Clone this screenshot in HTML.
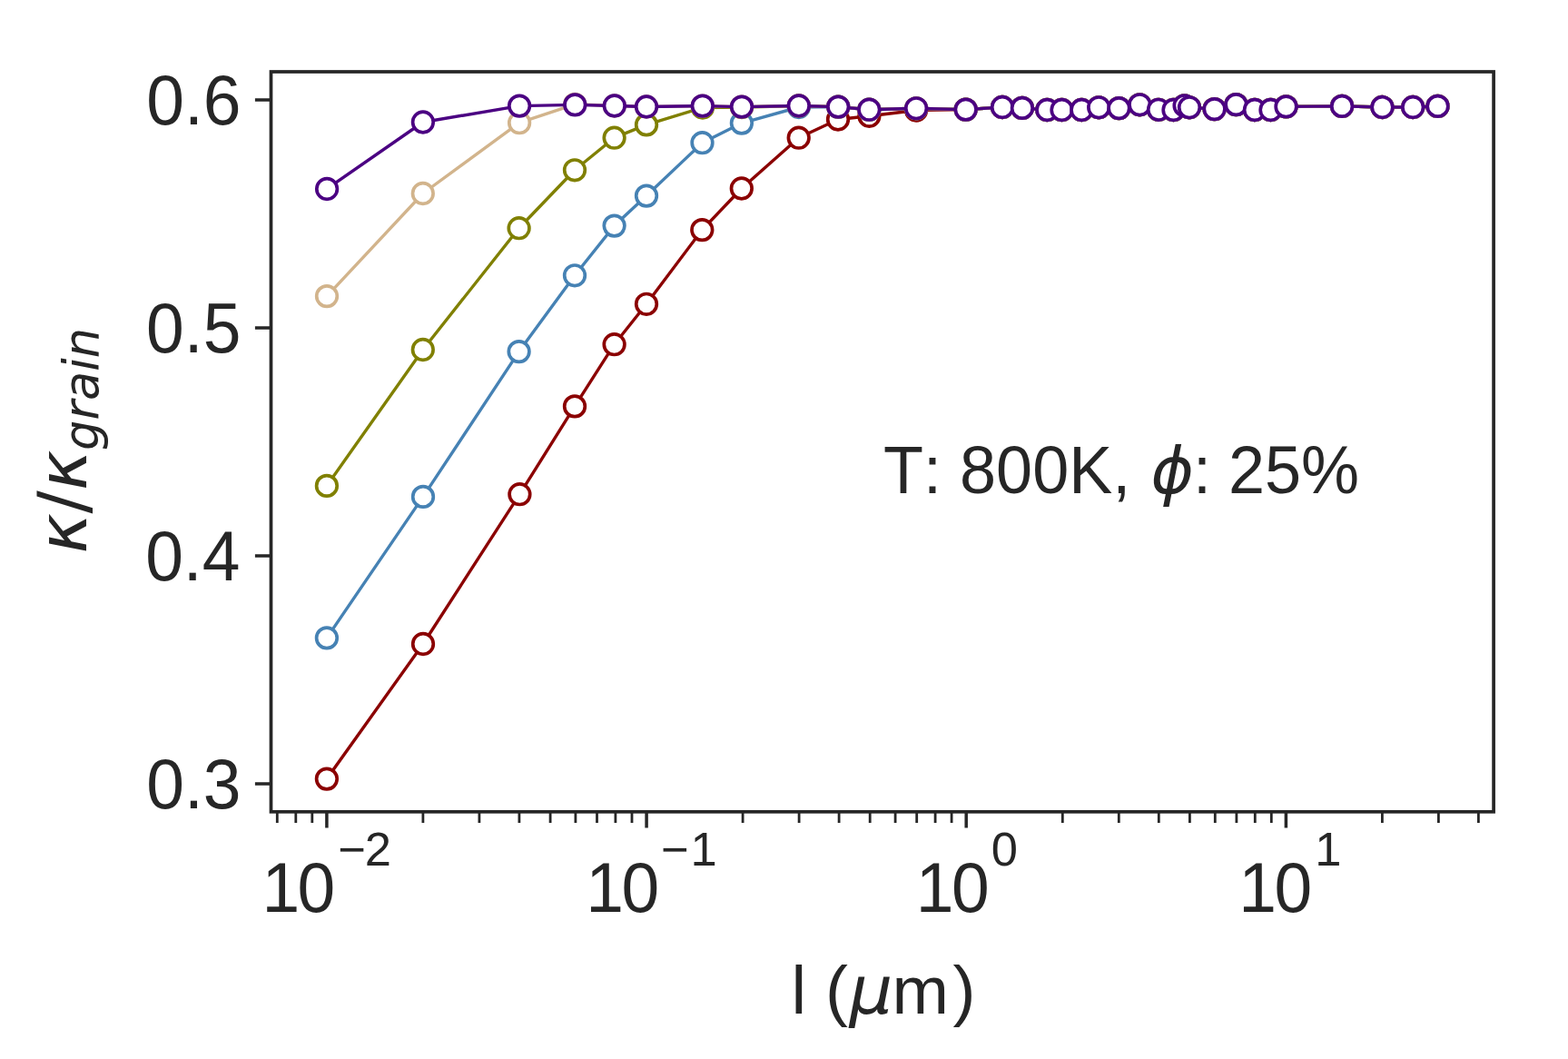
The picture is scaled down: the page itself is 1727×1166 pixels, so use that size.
<!DOCTYPE html>
<html><head><meta charset="utf-8"><style>html,body{margin:0;padding:0;background:#fff;overflow:hidden}svg{display:block}text{font-kerning:none}</style></head>
<body><svg width="1727" height="1166" viewBox="0 0 1727 1166">
<rect width="1727" height="1166" fill="#fff"/>
<g>
<defs><clipPath id="c"><rect x="298.5" y="79.0" width="1346.6" height="814.8"/></clipPath></defs>
<g clip-path="url(#c)">
<polyline points="359.9,857.6 466.0,709.0 572.4,544.2 633.0,447.4 676.6,379.2 712.0,334.8 773.3,253.1 816.8,207.5 879.7,151.7 923.0,131.5 957.4,127.8 1009.1,121.5 1063.7,120.6 1104.0,118.0 1125.9,118.9 1153.3,121.0 1169.5,121.0 1191.3,121.0 1210.2,118.3 1232.4,119.1 1255.3,115.3 1276.0,120.8 1292.5,121.0 1304.6,116.3 1310.0,118.3 1337.6,120.1 1361.4,115.1 1381.9,121.0 1399.5,121.0 1416.5,117.4 1478.1,116.9 1522.5,118.0 1556.2,118.0 1583.5,116.9" fill="none" stroke="#8B0000" stroke-width="3.4" stroke-linejoin="round" stroke-linecap="square"/>
<g fill="#fff" stroke="#8B0000" stroke-width="3.7"><circle cx="359.9" cy="857.6" r="11.3"/><circle cx="466.0" cy="709.0" r="11.3"/><circle cx="572.4" cy="544.2" r="11.3"/><circle cx="633.0" cy="447.4" r="11.3"/><circle cx="676.6" cy="379.2" r="11.3"/><circle cx="712.0" cy="334.8" r="11.3"/><circle cx="773.3" cy="253.1" r="11.3"/><circle cx="816.8" cy="207.5" r="11.3"/><circle cx="879.7" cy="151.7" r="11.3"/><circle cx="923.0" cy="131.5" r="11.3"/><circle cx="957.4" cy="127.8" r="11.3"/><circle cx="1009.1" cy="121.5" r="11.3"/><circle cx="1063.7" cy="120.6" r="11.3"/><circle cx="1104.0" cy="118.0" r="11.3"/><circle cx="1125.9" cy="118.9" r="11.3"/><circle cx="1153.3" cy="121.0" r="11.3"/><circle cx="1169.5" cy="121.0" r="11.3"/><circle cx="1191.3" cy="121.0" r="11.3"/><circle cx="1210.2" cy="118.3" r="11.3"/><circle cx="1232.4" cy="119.1" r="11.3"/><circle cx="1255.3" cy="115.3" r="11.3"/><circle cx="1276.0" cy="120.8" r="11.3"/><circle cx="1292.5" cy="121.0" r="11.3"/><circle cx="1304.6" cy="116.3" r="11.3"/><circle cx="1310.0" cy="118.3" r="11.3"/><circle cx="1337.6" cy="120.1" r="11.3"/><circle cx="1361.4" cy="115.1" r="11.3"/><circle cx="1381.9" cy="121.0" r="11.3"/><circle cx="1399.5" cy="121.0" r="11.3"/><circle cx="1416.5" cy="117.4" r="11.3"/><circle cx="1478.1" cy="116.9" r="11.3"/><circle cx="1522.5" cy="118.0" r="11.3"/><circle cx="1556.2" cy="118.0" r="11.3"/><circle cx="1583.5" cy="116.9" r="11.3"/></g>
<polyline points="359.9,702.4 466.0,546.9 571.6,387.1 633.0,303.3 676.6,248.6 712.0,215.6 773.5,157.2 816.9,135.6 879.8,118.0 923.2,117.6 957.3,120.7 1009.1,119.3 1063.7,120.6 1104.0,118.0 1125.9,118.9 1153.3,121.0 1169.5,121.0 1191.3,121.0 1210.2,118.3 1232.4,119.1 1255.3,115.3 1276.0,120.8 1292.5,121.0 1304.6,116.3 1310.0,118.3 1337.6,120.1 1361.4,115.1 1381.9,121.0 1399.5,121.0 1416.5,117.4 1478.1,116.9 1522.5,118.0 1556.2,118.0 1583.5,116.9" fill="none" stroke="#4682B4" stroke-width="3.4" stroke-linejoin="round" stroke-linecap="square"/>
<g fill="#fff" stroke="#4682B4" stroke-width="3.7"><circle cx="359.9" cy="702.4" r="11.3"/><circle cx="466.0" cy="546.9" r="11.3"/><circle cx="571.6" cy="387.1" r="11.3"/><circle cx="633.0" cy="303.3" r="11.3"/><circle cx="676.6" cy="248.6" r="11.3"/><circle cx="712.0" cy="215.6" r="11.3"/><circle cx="773.5" cy="157.2" r="11.3"/><circle cx="816.9" cy="135.6" r="11.3"/><circle cx="879.8" cy="118.0" r="11.3"/><circle cx="923.2" cy="117.6" r="11.3"/><circle cx="957.3" cy="120.7" r="11.3"/><circle cx="1009.1" cy="119.3" r="11.3"/><circle cx="1063.7" cy="120.6" r="11.3"/><circle cx="1104.0" cy="118.0" r="11.3"/><circle cx="1125.9" cy="118.9" r="11.3"/><circle cx="1153.3" cy="121.0" r="11.3"/><circle cx="1169.5" cy="121.0" r="11.3"/><circle cx="1191.3" cy="121.0" r="11.3"/><circle cx="1210.2" cy="118.3" r="11.3"/><circle cx="1232.4" cy="119.1" r="11.3"/><circle cx="1255.3" cy="115.3" r="11.3"/><circle cx="1276.0" cy="120.8" r="11.3"/><circle cx="1292.5" cy="121.0" r="11.3"/><circle cx="1304.6" cy="116.3" r="11.3"/><circle cx="1310.0" cy="118.3" r="11.3"/><circle cx="1337.6" cy="120.1" r="11.3"/><circle cx="1361.4" cy="115.1" r="11.3"/><circle cx="1381.9" cy="121.0" r="11.3"/><circle cx="1399.5" cy="121.0" r="11.3"/><circle cx="1416.5" cy="117.4" r="11.3"/><circle cx="1478.1" cy="116.9" r="11.3"/><circle cx="1522.5" cy="118.0" r="11.3"/><circle cx="1556.2" cy="118.0" r="11.3"/><circle cx="1583.5" cy="116.9" r="11.3"/></g>
<polyline points="359.9,534.9 465.8,385.0 571.6,251.2 633.0,187.3 676.6,151.7 712.0,137.4 773.9,118.5 817.0,118.0 879.8,116.5 923.2,117.6 957.3,120.7 1009.1,119.3 1063.7,120.6 1104.0,118.0 1125.9,118.9 1153.3,121.0 1169.5,121.0 1191.3,121.0 1210.2,118.3 1232.4,119.1 1255.3,115.3 1276.0,120.8 1292.5,121.0 1304.6,116.3 1310.0,118.3 1337.6,120.1 1361.4,115.1 1381.9,121.0 1399.5,121.0 1416.5,117.4 1478.1,116.9 1522.5,118.0 1556.2,118.0 1583.5,116.9" fill="none" stroke="#808000" stroke-width="3.4" stroke-linejoin="round" stroke-linecap="square"/>
<g fill="#fff" stroke="#808000" stroke-width="3.7"><circle cx="359.9" cy="534.9" r="11.3"/><circle cx="465.8" cy="385.0" r="11.3"/><circle cx="571.6" cy="251.2" r="11.3"/><circle cx="633.0" cy="187.3" r="11.3"/><circle cx="676.6" cy="151.7" r="11.3"/><circle cx="712.0" cy="137.4" r="11.3"/><circle cx="773.9" cy="118.5" r="11.3"/><circle cx="817.0" cy="118.0" r="11.3"/><circle cx="879.8" cy="116.5" r="11.3"/><circle cx="923.2" cy="117.6" r="11.3"/><circle cx="957.3" cy="120.7" r="11.3"/><circle cx="1009.1" cy="119.3" r="11.3"/><circle cx="1063.7" cy="120.6" r="11.3"/><circle cx="1104.0" cy="118.0" r="11.3"/><circle cx="1125.9" cy="118.9" r="11.3"/><circle cx="1153.3" cy="121.0" r="11.3"/><circle cx="1169.5" cy="121.0" r="11.3"/><circle cx="1191.3" cy="121.0" r="11.3"/><circle cx="1210.2" cy="118.3" r="11.3"/><circle cx="1232.4" cy="119.1" r="11.3"/><circle cx="1255.3" cy="115.3" r="11.3"/><circle cx="1276.0" cy="120.8" r="11.3"/><circle cx="1292.5" cy="121.0" r="11.3"/><circle cx="1304.6" cy="116.3" r="11.3"/><circle cx="1310.0" cy="118.3" r="11.3"/><circle cx="1337.6" cy="120.1" r="11.3"/><circle cx="1361.4" cy="115.1" r="11.3"/><circle cx="1381.9" cy="121.0" r="11.3"/><circle cx="1399.5" cy="121.0" r="11.3"/><circle cx="1416.5" cy="117.4" r="11.3"/><circle cx="1478.1" cy="116.9" r="11.3"/><circle cx="1522.5" cy="118.0" r="11.3"/><circle cx="1556.2" cy="118.0" r="11.3"/><circle cx="1583.5" cy="116.9" r="11.3"/></g>
<polyline points="360.0,326.1 465.8,213.0 572.1,135.2 633.2,114.8 676.8,116.5 712.0,117.5 773.8,116.6 817.0,117.6 879.8,116.5 923.2,117.6 957.3,120.7 1009.1,119.3 1063.7,120.6 1104.0,118.0 1125.9,118.9 1153.3,121.0 1169.5,121.0 1191.3,121.0 1210.2,118.3 1232.4,119.1 1255.3,115.3 1276.0,120.8 1292.5,121.0 1304.6,116.3 1310.0,118.3 1337.6,120.1 1361.4,115.1 1381.9,121.0 1399.5,121.0 1416.5,117.4 1478.1,116.9 1522.5,118.0 1556.2,118.0 1583.5,116.9" fill="none" stroke="#D2B48C" stroke-width="3.4" stroke-linejoin="round" stroke-linecap="square"/>
<g fill="#fff" stroke="#D2B48C" stroke-width="3.7"><circle cx="360.0" cy="326.1" r="11.3"/><circle cx="465.8" cy="213.0" r="11.3"/><circle cx="572.1" cy="135.2" r="11.3"/><circle cx="633.2" cy="114.8" r="11.3"/><circle cx="676.8" cy="116.5" r="11.3"/><circle cx="712.0" cy="117.5" r="11.3"/><circle cx="773.8" cy="116.6" r="11.3"/><circle cx="817.0" cy="117.6" r="11.3"/><circle cx="879.8" cy="116.5" r="11.3"/><circle cx="923.2" cy="117.6" r="11.3"/><circle cx="957.3" cy="120.7" r="11.3"/><circle cx="1009.1" cy="119.3" r="11.3"/><circle cx="1063.7" cy="120.6" r="11.3"/><circle cx="1104.0" cy="118.0" r="11.3"/><circle cx="1125.9" cy="118.9" r="11.3"/><circle cx="1153.3" cy="121.0" r="11.3"/><circle cx="1169.5" cy="121.0" r="11.3"/><circle cx="1191.3" cy="121.0" r="11.3"/><circle cx="1210.2" cy="118.3" r="11.3"/><circle cx="1232.4" cy="119.1" r="11.3"/><circle cx="1255.3" cy="115.3" r="11.3"/><circle cx="1276.0" cy="120.8" r="11.3"/><circle cx="1292.5" cy="121.0" r="11.3"/><circle cx="1304.6" cy="116.3" r="11.3"/><circle cx="1310.0" cy="118.3" r="11.3"/><circle cx="1337.6" cy="120.1" r="11.3"/><circle cx="1361.4" cy="115.1" r="11.3"/><circle cx="1381.9" cy="121.0" r="11.3"/><circle cx="1399.5" cy="121.0" r="11.3"/><circle cx="1416.5" cy="117.4" r="11.3"/><circle cx="1478.1" cy="116.9" r="11.3"/><circle cx="1522.5" cy="118.0" r="11.3"/><circle cx="1556.2" cy="118.0" r="11.3"/><circle cx="1583.5" cy="116.9" r="11.3"/></g>
<polyline points="360.1,208.0 465.9,134.5 572.1,116.6 633.3,115.4 676.8,116.5 712.0,117.5 773.8,116.6 817.0,117.6 879.8,116.5 923.2,117.6 957.3,120.7 1009.1,119.3 1063.7,120.6 1104.0,118.0 1125.9,118.9 1153.3,121.0 1169.5,121.0 1191.3,121.0 1210.2,118.3 1232.4,119.1 1255.3,115.3 1276.0,120.8 1292.5,121.0 1304.6,116.3 1310.0,118.3 1337.6,120.1 1361.4,115.1 1381.9,121.0 1399.5,121.0 1416.5,117.4 1478.1,116.9 1522.5,118.0 1556.2,118.0 1583.5,116.9" fill="none" stroke="#4B0082" stroke-width="3.4" stroke-linejoin="round" stroke-linecap="square"/>
<g fill="#fff" stroke="#4B0082" stroke-width="3.7"><circle cx="360.1" cy="208.0" r="11.3"/><circle cx="465.9" cy="134.5" r="11.3"/><circle cx="572.1" cy="116.6" r="11.3"/><circle cx="633.3" cy="115.4" r="11.3"/><circle cx="676.8" cy="116.5" r="11.3"/><circle cx="712.0" cy="117.5" r="11.3"/><circle cx="773.8" cy="116.6" r="11.3"/><circle cx="817.0" cy="117.6" r="11.3"/><circle cx="879.8" cy="116.5" r="11.3"/><circle cx="923.2" cy="117.6" r="11.3"/><circle cx="957.3" cy="120.7" r="11.3"/><circle cx="1009.1" cy="119.3" r="11.3"/><circle cx="1063.7" cy="120.6" r="11.3"/><circle cx="1104.0" cy="118.0" r="11.3"/><circle cx="1125.9" cy="118.9" r="11.3"/><circle cx="1153.3" cy="121.0" r="11.3"/><circle cx="1169.5" cy="121.0" r="11.3"/><circle cx="1191.3" cy="121.0" r="11.3"/><circle cx="1210.2" cy="118.3" r="11.3"/><circle cx="1232.4" cy="119.1" r="11.3"/><circle cx="1255.3" cy="115.3" r="11.3"/><circle cx="1276.0" cy="120.8" r="11.3"/><circle cx="1292.5" cy="121.0" r="11.3"/><circle cx="1304.6" cy="116.3" r="11.3"/><circle cx="1310.0" cy="118.3" r="11.3"/><circle cx="1337.6" cy="120.1" r="11.3"/><circle cx="1361.4" cy="115.1" r="11.3"/><circle cx="1381.9" cy="121.0" r="11.3"/><circle cx="1399.5" cy="121.0" r="11.3"/><circle cx="1416.5" cy="117.4" r="11.3"/><circle cx="1478.1" cy="116.9" r="11.3"/><circle cx="1522.5" cy="118.0" r="11.3"/><circle cx="1556.2" cy="118.0" r="11.3"/><circle cx="1583.5" cy="116.9" r="11.3"/></g>
</g>
<rect x="298.5" y="79.0" width="1346.6" height="814.8" fill="none" stroke="#262626" stroke-width="3.7"/>
<path d="M280.9 109.9H298.5M280.9 360.9H298.5M280.9 612.0H298.5M280.9 863.0H298.5" stroke="#262626" stroke-width="3.5" fill="none"/>
<path d="M359.9 893.8V911.4M712.1 893.8V911.4M1064.2 893.8V911.4M1416.4 893.8V911.4" stroke="#262626" stroke-width="3.5" fill="none"/>
<path d="M305.3 893.8V906.0M325.8 893.8V906.0M343.8 893.8V906.0M465.9 893.8V906.0M527.9 893.8V906.0M571.9 893.8V906.0M606.1 893.8V906.0M633.9 893.8V906.0M657.5 893.8V906.0M677.9 893.8V906.0M696.0 893.8V906.0M818.1 893.8V906.0M880.1 893.8V906.0M924.1 893.8V906.0M958.2 893.8V906.0M986.1 893.8V906.0M1009.7 893.8V906.0M1030.1 893.8V906.0M1048.1 893.8V906.0M1170.3 893.8V906.0M1232.3 893.8V906.0M1276.3 893.8V906.0M1310.4 893.8V906.0M1338.3 893.8V906.0M1361.9 893.8V906.0M1382.3 893.8V906.0M1400.3 893.8V906.0M1522.4 893.8V906.0M1584.4 893.8V906.0M1628.4 893.8V906.0" stroke="#262626" stroke-width="2.8" fill="none"/>
<text transform="translate(161.24,136.80) scale(1,1.03)" font-family="Liberation Sans, Arial, sans-serif" font-size="75" fill="#262626">0.6</text>
<text transform="translate(161.09,387.83) scale(1,1.03)" font-family="Liberation Sans, Arial, sans-serif" font-size="75" fill="#262626">0.5</text>
<text transform="translate(160.14,638.86) scale(1,1.03)" font-family="Liberation Sans, Arial, sans-serif" font-size="75" fill="#262626">0.4</text>
<text transform="translate(161.24,889.89) scale(1,1.03)" font-family="Liberation Sans, Arial, sans-serif" font-size="75" fill="#262626">0.3</text>
<text transform="translate(288.38,1004.20) scale(1,1.03)" font-family="Liberation Sans, Arial, sans-serif" font-size="75" fill="#262626">1</text>
<text transform="translate(327.62,1004.20) scale(1,1.03)" font-family="Liberation Sans, Arial, sans-serif" font-size="75" fill="#262626">0</text>
<text x="372.21" y="953.00" font-family="Liberation Sans, Arial, sans-serif" font-size="52.5" fill="#262626">−</text>
<text x="401.66" y="953.00" font-family="Liberation Sans, Arial, sans-serif" font-size="52.5" fill="#262626">2</text>
<text transform="translate(645.28,1004.20) scale(1,1.03)" font-family="Liberation Sans, Arial, sans-serif" font-size="75" fill="#262626">1</text>
<text transform="translate(684.52,1004.20) scale(1,1.03)" font-family="Liberation Sans, Arial, sans-serif" font-size="75" fill="#262626">0</text>
<text x="728.11" y="953.00" font-family="Liberation Sans, Arial, sans-serif" font-size="52.5" fill="#262626">−</text>
<text x="760.41" y="953.00" font-family="Liberation Sans, Arial, sans-serif" font-size="52.5" fill="#262626">1</text>
<text transform="translate(1008.78,1004.20) scale(1,1.03)" font-family="Liberation Sans, Arial, sans-serif" font-size="75" fill="#262626">1</text>
<text transform="translate(1048.02,1004.20) scale(1,1.03)" font-family="Liberation Sans, Arial, sans-serif" font-size="75" fill="#262626">0</text>
<text x="1091.65" y="953.00" font-family="Liberation Sans, Arial, sans-serif" font-size="52.5" fill="#262626">0</text>
<text transform="translate(1364.18,1004.20) scale(1,1.03)" font-family="Liberation Sans, Arial, sans-serif" font-size="75" fill="#262626">1</text>
<text transform="translate(1403.42,1004.20) scale(1,1.03)" font-family="Liberation Sans, Arial, sans-serif" font-size="75" fill="#262626">0</text>
<text x="1448.21" y="953.00" font-family="Liberation Sans, Arial, sans-serif" font-size="52.5" fill="#262626">1</text>
<text x="871.50" y="1115.90" font-family="Liberation Sans, Arial, sans-serif" font-size="75" fill="#262626">l (</text>
<text x="935.50" y="1115.90" font-family="DejaVu Sans, sans-serif" font-size="75" font-style="italic" fill="#262626">μ</text>
<text x="982.40" y="1115.90" font-family="Liberation Sans, Arial, sans-serif" font-size="75" fill="#262626">m</text>
<text x="1049.40" y="1115.90" font-family="Liberation Sans, Arial, sans-serif" font-size="75" fill="#262626">)</text>
<text transform="translate(973.10,543.30) scale(1,1.03)" font-family="Liberation Sans, Arial, sans-serif" font-size="72" fill="#262626">T: 800K,</text>
<text x="1267.40" y="543.30" font-family="DejaVu Sans, sans-serif" font-size="72" font-style="italic" fill="#262626">ϕ</text>
<text transform="translate(1314.10,543.30) scale(1,1.03)" font-family="Liberation Sans, Arial, sans-serif" font-size="72" fill="#262626">:</text>
<text transform="translate(1352.90,543.30) scale(1,1.03)" font-family="Liberation Sans, Arial, sans-serif" font-size="72" fill="#262626">25%</text>
<text transform="translate(94.8,609.6) rotate(-90)" font-family="DejaVu Sans, sans-serif" font-size="75" fill="#262626"><tspan font-style="italic">κ</tspan><tspan>/</tspan><tspan font-style="italic">κ</tspan><tspan font-style="italic" font-size="52.5" dy="12.8">grain</tspan></text>
</g>
</svg></body></html>
